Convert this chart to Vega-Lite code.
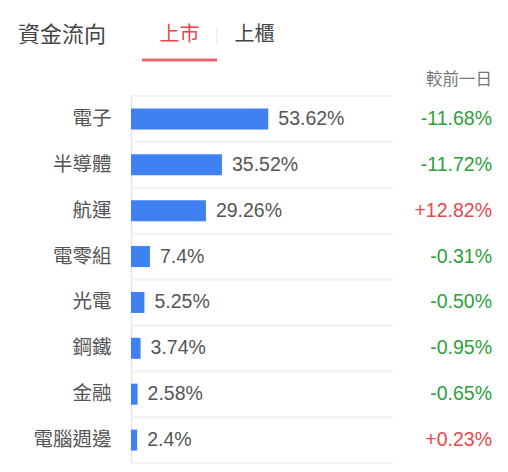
{
  "$schema": "https://vega.github.io/schema/vega-lite/v6.json",
  "background": "white",
  "padding": {"left": 17, "top": 24, "right": 10, "bottom": 5},
  "bounds": "flush",
  "spacing": 36,
  "config": {
    "view": {"stroke": null},
    "font": "Liberation Sans, Noto Sans CJK TC"
  },
  "datasets": {
    "tabs": [
      {"tab": "上市", "active": true},
      {"tab": "上櫃", "active": false}
    ],
    "flows": [
      {"sector": "電子", "share": 53.62, "chg": -11.68},
      {"sector": "半導體", "share": 35.52, "chg": -11.72},
      {"sector": "航運", "share": 29.26, "chg": 12.82},
      {"sector": "電零組", "share": 7.4, "chg": -0.31},
      {"sector": "光電", "share": 5.25, "chg": -0.50},
      {"sector": "鋼鐵", "share": 3.74, "chg": -0.95},
      {"sector": "金融", "share": 2.58, "chg": -0.65},
      {"sector": "電腦週邊", "share": 2.4, "chg": 0.23}
    ]
  },
  "vconcat": [
    {
      "data": {"name": "tabs"},
      "width": 172,
      "height": 25,
      "title": {
        "text": "資金流向",
        "orient": "left",
        "anchor": "end",
        "angle": 0,
        "align": "left",
        "baseline": "middle",
        "offset": 25,
        "dy": 10,
        "fontSize": 22,
        "fontWeight": "normal",
        "color": "#444"
      },
      "encoding": {
        "x": {
          "field": "tab",
          "type": "nominal",
          "sort": null,
          "scale": {"paddingInner": 0, "paddingOuter": 0.147},
          "axis": null
        }
      },
      "layer": [
        {
          "mark": {"type": "text", "baseline": "middle", "fontSize": 20},
          "encoding": {
            "y": {"datum": 1, "type": "quantitative", "scale": {"domain": [0, 1]}, "axis": null},
            "text": {"field": "tab"},
            "color": {"condition": {"test": "datum.active", "value": "#e8474c"}, "value": "#444"}
          }
        },
        {
          "transform": [{"filter": "datum.active"}],
          "mark": {"type": "tick", "thickness": 3, "size": 75, "color": "#e5262b"},
          "encoding": {"y": {"datum": 0, "type": "quantitative", "axis": null}}
        },
        {
          "transform": [{"filter": "datum.active"}],
          "mark": {"type": "rule", "color": "#e6e6e6", "strokeWidth": 1},
          "encoding": {
            "x": {"field": "tab", "type": "nominal", "sort": null, "bandPosition": 1, "axis": null},
            "y": {"datum": 1.32, "type": "quantitative", "axis": null},
            "y2": {"datum": 0.6}
          }
        }
      ]
    },
    {
      "data": {"name": "flows"},
      "width": 361,
      "height": 367,
      "title": {
        "text": "較前一日",
        "anchor": "end",
        "fontSize": 16.5,
        "fontWeight": "normal",
        "color": "#777",
        "offset": 7
      },
      "transform": [
        {"calculate": "datum.share + '%'", "as": "shareLabel"},
        {"calculate": "replace(format(datum.chg, '+.2f'), '\u2212', '-') + '%'", "as": "chgLabel"}
      ],
      "encoding": {
        "y": {
          "field": "sector",
          "type": "nominal",
          "sort": null,
          "scale": {"paddingInner": 0, "paddingOuter": 0},
          "axis": {
            "title": null,
            "ticks": false,
            "grid": false,
            "domainColor": "#e6e6e6",
            "domainWidth": 1.5,
            "labelFontSize": 19.5,
            "labelColor": "#555",
            "labelPadding": 20
          }
        }
      },
      "layer": [
        {
          "mark": {"type": "rule", "color": "#f2f2f2", "strokeWidth": 2},
          "encoding": {
            "y": {"field": "sector", "type": "nominal", "sort": null, "bandPosition": 0},
            "x": {"datum": 0, "type": "quantitative", "axis": null},
            "x2": {"datum": 102.3}
          }
        },
        {
          "mark": {"type": "rule", "color": "#f2f2f2", "strokeWidth": 2},
          "encoding": {
            "y": {"field": "sector", "type": "nominal", "sort": null, "bandPosition": 1},
            "x": {"datum": 0, "type": "quantitative", "axis": null},
            "x2": {"datum": 102.3}
          }
        },
        {
          "mark": {"type": "bar", "color": "#3f80f2", "size": 21},
          "encoding": {
            "x": {"field": "share", "type": "quantitative", "scale": {"domain": [0, 141], "nice": false, "zero": true}, "axis": null}
          }
        },
        {
          "mark": {"type": "text", "align": "left", "dx": 10, "baseline": "middle", "fontSize": 19.5, "color": "#555"},
          "encoding": {
            "x": {"field": "share", "type": "quantitative", "axis": null},
            "text": {"field": "shareLabel"}
          }
        },
        {
          "mark": {"type": "text", "align": "right", "baseline": "middle", "fontSize": 19.5},
          "encoding": {
            "x": {"datum": 141, "type": "quantitative", "axis": null},
            "text": {"field": "chgLabel"},
            "color": {"condition": {"test": "datum.chg > 0", "value": "#e8474c"}, "value": "#2ba13a"}
          }
        }
      ]
    }
  ]
}
